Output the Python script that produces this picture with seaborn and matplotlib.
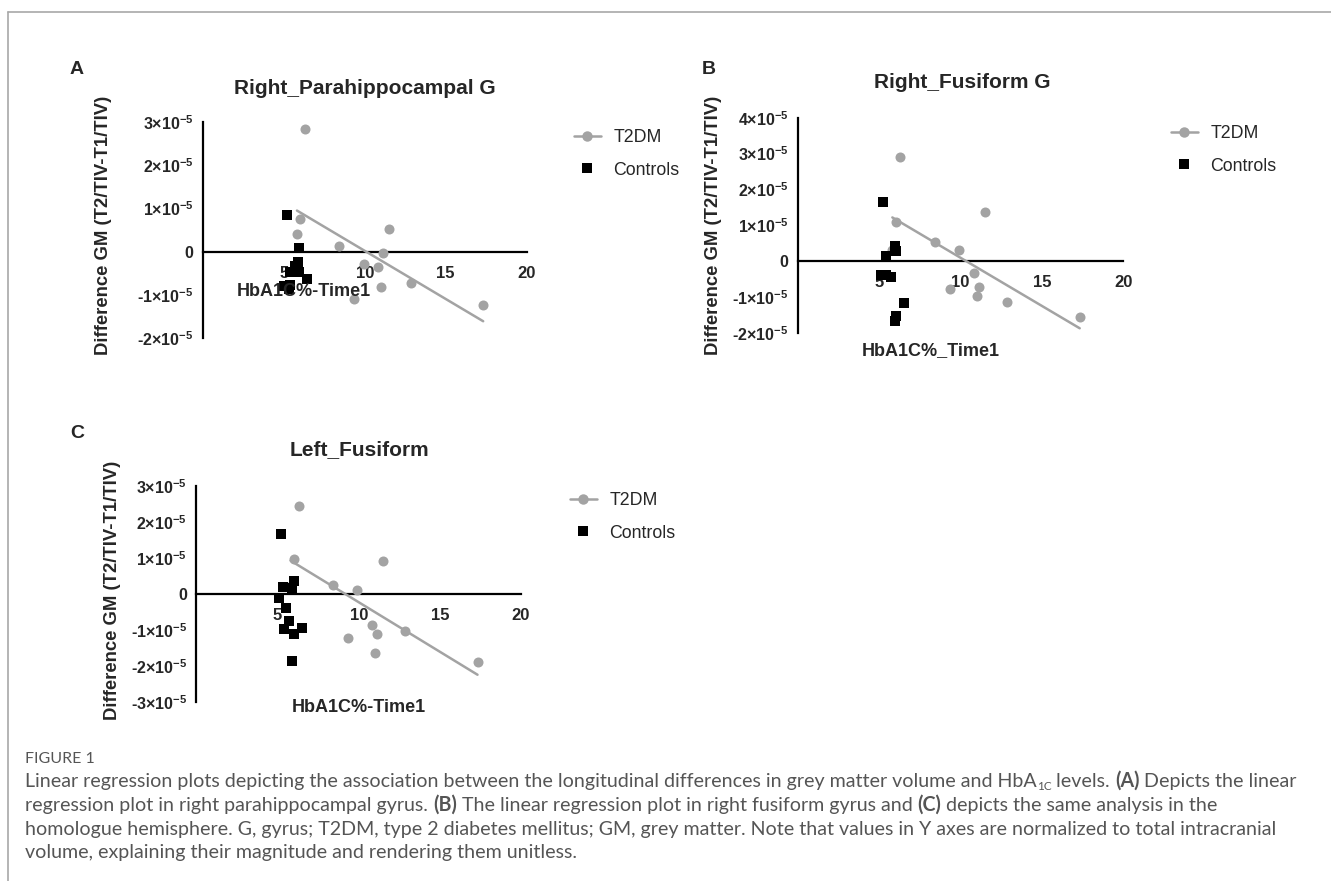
import numpy as np
import pandas as pd
import seaborn as sns
import matplotlib.pyplot as plt
from matplotlib.lines import Line2D

# HbA1c (%) at time 1 for the T2DM patients (same people in all panels)
t2dm_hba1c = [5.8, 6.0, 6.3, 8.4, 9.33, 9.92, 10.82, 11.01, 11.11, 11.52, 12.83, 17.32]

# GM difference, in units of 1e-5
t2dm_a = [0.41, 0.76, 2.82, 0.14, -1.10, -0.28, -0.36, -0.82, -0.02, 0.52, -0.72, -1.22]
t2dm_b = [0.31, 1.10, 2.90, 0.54, -0.76, 0.31, -0.32, -0.96, -0.71, 1.37, -1.12, -1.56]
t2dm_c = [0.21, 0.97, 2.44, 0.24, -1.24, 0.11, -0.87, -1.64, -1.11, 0.91, -1.02, -1.90]

ctrl_a_x = [5.16, 5.95, 5.86, 5.66, 5.37, 5.94, 6.44, 5.00, 5.37, 5.33]
ctrl_a_y = [0.85, 0.08, -0.23, -0.33, -0.46, -0.48, -0.64, -0.79, -0.77, -0.87]
ctrl_b_x = [5.23, 5.94, 6.03, 5.41, 5.10, 5.41, 5.72, 6.54, 6.05, 5.94]
ctrl_b_y = [1.65, 0.42, 0.30, 0.15, -0.37, -0.37, -0.42, -1.15, -1.52, -1.65]
ctrl_c_x = [5.19, 6.01, 5.35, 5.91, 5.08, 5.52, 5.70, 5.37, 6.51, 6.01, 5.91]
ctrl_c_y = [1.66, 0.37, 0.19, 0.17, -0.12, -0.39, -0.76, -0.99, -0.94, -1.13, -1.87]

titles = ["Right_Parahippocampal G", "Right_Fusiform G", "Left_Fusiform"]
xlabels = ["HbA1C%-Time1", "HbA1C%_Time1", "HbA1C%-Time1"]
ylabel = "Difference GM (T2/TIV-T1/TIV)"
x_ticks = [5, 10, 15, 20]
y_ticks_a = [-2, -1, 0, 1, 2, 3]
y_ticks_b = [-2, -1, 0, 1, 2, 3, 4]
y_ticks_c = [-3, -2, -1, 0, 1, 2, 3]

sns.set_style("white")
plt.rcParams["font.family"] = ["Liberation Sans", "DejaVu Sans"]
plt.rcParams["mathtext.fontset"] = "custom"
plt.rcParams["mathtext.rm"] = "Liberation Sans:bold"
plt.rcParams["mathtext.bf"] = "Liberation Sans:bold"

GRAY = "#a3a3a3"
W, H = 1331, 881
fig = plt.figure(figsize=(W / 100, H / 100), dpi=100)


def fx(px):
    return px / W


def fy(py):
    return 1 - py / H


def ytick_label(n):
    if n == 0:
        return "0"
    return f"{n}×10" + r"$^{\mathbf{-5}}$"


def panel(box, hba1c, gm, cx, cy, yticks, title, xlabel, pos):
    left, right, top, bottom = box
    ax = fig.add_axes([fx(left), fy(bottom), (right - left) / W, (bottom - top) / H])

    df = pd.DataFrame({"hba1c": hba1c, "gm": np.array(gm) * 1e-5})
    ctrl = pd.DataFrame({"hba1c": cx, "gm": np.array(cy) * 1e-5})

    sns.regplot(data=df, x="hba1c", y="gm", ax=ax, ci=None, color=GRAY,
                scatter_kws=dict(s=52, linewidths=0, alpha=1, zorder=4),
                line_kws=dict(lw=1.8, zorder=3))
    sns.scatterplot(data=ctrl, x="hba1c", y="gm", ax=ax, marker="s", color="black",
                    s=50, linewidth=0, zorder=5, legend=False)

    # spine position first: moving it resets the tick label styling
    for s in ["top", "right"]:
        ax.spines[s].set_visible(False)
    ax.spines["bottom"].set_position(("data", 0))
    for s in ["left", "bottom"]:
        ax.spines[s].set_linewidth(1.6)
        ax.spines[s].set_color("black")

    ax.set_xlim(0, 20)
    ax.set_ylim(yticks[0] * 1e-5, yticks[-1] * 1e-5)
    ax.set_xticks(x_ticks)
    ax.set_xticklabels([str(t) for t in x_ticks], fontweight="bold", fontsize=12)
    ax.set_yticks([t * 1e-5 for t in yticks])
    ax.set_yticklabels([ytick_label(t) for t in yticks], fontweight="bold", fontsize=11.5)
    ax.set_xlabel("")
    ax.set_ylabel("")
    ax.tick_params(axis="both", direction="out", length=5.5, width=1.6, color="black")
    ax.tick_params(axis="x", pad=4.5)
    ax.tick_params(axis="y", pad=1.5)
    ax.patch.set_alpha(0)

    fig.text(fx(pos["title"][0]), fy(pos["title"][1]), title, ha="center", va="center",
             fontsize=15, fontweight="bold")
    fig.text(fx(pos["xlabel"][0]), fy(pos["xlabel"][1]), xlabel, ha="center", va="center",
             fontsize=13, fontweight="bold")
    fig.text(fx(pos["ylabel"][0]), fy(pos["ylabel"][1]), ylabel, ha="center", va="center",
             rotation=90, fontsize=13.3, fontweight="bold")
    fig.text(fx(pos["letter"][0]), fy(pos["letter"][1]), pos["name"], ha="center",
             va="center", fontsize=14, fontweight="bold")

    handles = [Line2D([], [], color=GRAY, lw=1.8, marker="o", markersize=7.5,
                      markeredgewidth=0),
               Line2D([], [], color="black", lw=0, marker="s", markersize=7,
                      markeredgewidth=0)]
    ax.legend(handles, ["T2DM", "Controls"], loc="center left", frameon=False,
              bbox_to_anchor=(fx(pos["legend"][0]), fy(pos["legend"][1])),
              bbox_transform=fig.transFigure, fontsize=12.8, handlelength=1.55,
              handletextpad=0.7, labelspacing=0.85, borderpad=0, borderaxespad=0)
    return ax


panel((203.2, 526.5, 121.7, 338.3), t2dm_hba1c, t2dm_a, ctrl_a_x, ctrl_a_y,
      y_ticks_a, titles[0], xlabels[0],
      dict(title=(365, 89), xlabel=(304, 291), ylabel=(103.5, 225),
           letter=(77, 69), name="A", legend=(573.5, 154)))
panel((798, 1123.3, 117.7, 333.3), t2dm_hba1c, t2dm_b, ctrl_b_x, ctrl_b_y,
      y_ticks_b, titles[1], xlabels[1],
      dict(title=(962, 83), xlabel=(931, 351), ylabel=(713.5, 225),
           letter=(709, 69), name="B", legend=(1170.5, 150)))
panel((196.5, 521, 486, 701.7), t2dm_hba1c, t2dm_c, ctrl_c_x, ctrl_c_y,
      y_ticks_c, titles[2], xlabels[2],
      dict(title=(359, 450), xlabel=(359, 707), ylabel=(113, 590),
           letter=(77, 433), name="C", legend=(569.5, 517)))

# thin page frame
frame = "#a8a8a8"
fig.add_artist(Line2D([fx(8), fx(8)], [0, fy(12)], transform=fig.transFigure,
                      color=frame, lw=1.2))
fig.add_artist(Line2D([fx(8), 1], [fy(12), fy(12)], transform=fig.transFigure,
                      color=frame, lw=1.2))

# caption
renderer = fig.canvas.get_renderer()
cap = dict(family=["Lato", "DejaVu Sans"], color="#555555")


def text_width(s, **kw):
    t = fig.text(0, 0, s + "|", **kw)
    w = t.get_window_extent(renderer).width
    t.remove()
    t = fig.text(0, 0, "|", **kw)
    w -= t.get_window_extent(renderer).width
    t.remove()
    return w


def caption_line(y, runs, size=14.1):
    x = 25.0
    for s, style in runs:
        kw = dict(fontsize=size, fontweight="bold" if style == "b" else "normal", **cap)
        dy = 0
        if style == "sub":
            kw["fontsize"] = size * 0.6
            dy = 3
        fig.text(fx(x), fy(y + dy), s, ha="left", va="baseline", **kw)
        x += text_width(s, **kw)


fig.text(fx(25), fy(763), "FIGURE 1", ha="left", va="baseline", fontsize=11.5, **cap)
caption_line(787, [("Linear regression plots depicting the association between the longitudinal "
                    "differences in grey matter volume and HbA", "n"), ("1C", "sub"),
                   (" levels. ", "n"), ("(A)", "b"), (" Depicts the linear", "n")])
caption_line(811, [("regression plot in right parahippocampal gyrus. ", "n"), ("(B)", "b"),
                   (" The linear regression plot in right fusiform gyrus and ", "n"),
                   ("(C)", "b"), (" depicts the same analysis in the", "n")])
caption_line(835, [("homologue hemisphere. G, gyrus; T2DM, type 2 diabetes mellitus; GM, grey "
                    "matter. Note that values in Y axes are normalized to total intracranial", "n")])
caption_line(858, [("volume, explaining their magnitude and rendering them unitless.", "n")])

fig.savefig("out.png", dpi=100)
